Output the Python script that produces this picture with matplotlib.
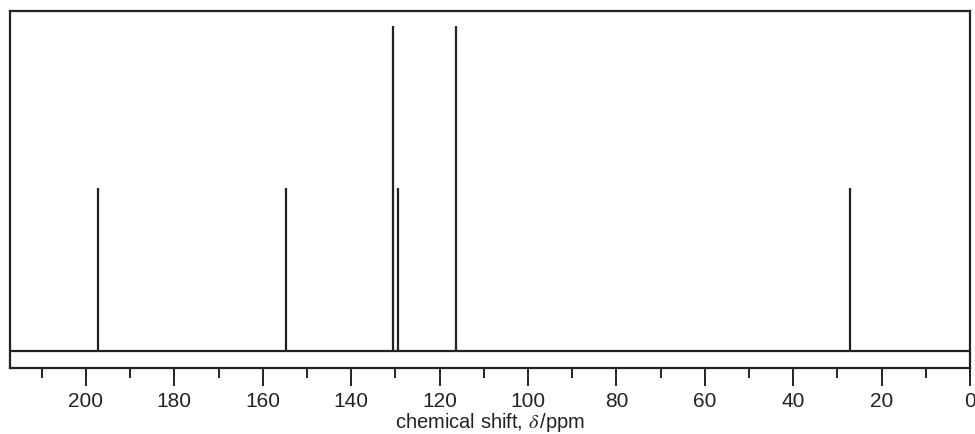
import matplotlib
matplotlib.use("Agg")
import matplotlib.pyplot as plt

shifts = [197.3, 154.8, 130.5, 129.4, 116.3, 27.1]
intensities = [1, 1, 2, 1, 2, 1]
major_ticks = [200, 180, 160, 140, 120, 100, 80, 60, 40, 20, 0]
minor_ticks = [210, 190, 170, 150, 130, 110, 90, 70, 50, 30, 10]

plt.rcParams['font.family'] = ['Liberation Sans', 'DejaVu Sans']
plt.rcParams['mathtext.fontset'] = 'stix'

col = '#222222'
fig = plt.figure(figsize=(9.75, 4.34), dpi=100)
ax = fig.add_axes([9.5/975, (434-368)/434, (970-9.5)/975, (368-11)/434])

ax.vlines(shifts, 0, intensities, color=col, lw=1.6)
ax.axhline(0, color=col, lw=1.6)

ax.set_xlim(217.3, 0)
ax.set_ylim(-0.105, 2.092)
ax.set_yticks([])
ax.set_xticks(major_ticks)
ax.set_xticks(minor_ticks, minor=True)
ax.tick_params(axis='x', which='major', length=13, width=1.4, color=col,
               labelsize=15, pad=4, labelcolor=col)
ax.tick_params(axis='x', which='minor', length=7, width=1.4, color=col)
for s in ax.spines.values():
    s.set_linewidth(1.6)
    s.set_color(col)
ax.set_xlabel(r'chemical shift, $\delta\,$/ppm', fontsize=14.5, color=col, labelpad=0)

fig.savefig('out.png', dpi=100)
